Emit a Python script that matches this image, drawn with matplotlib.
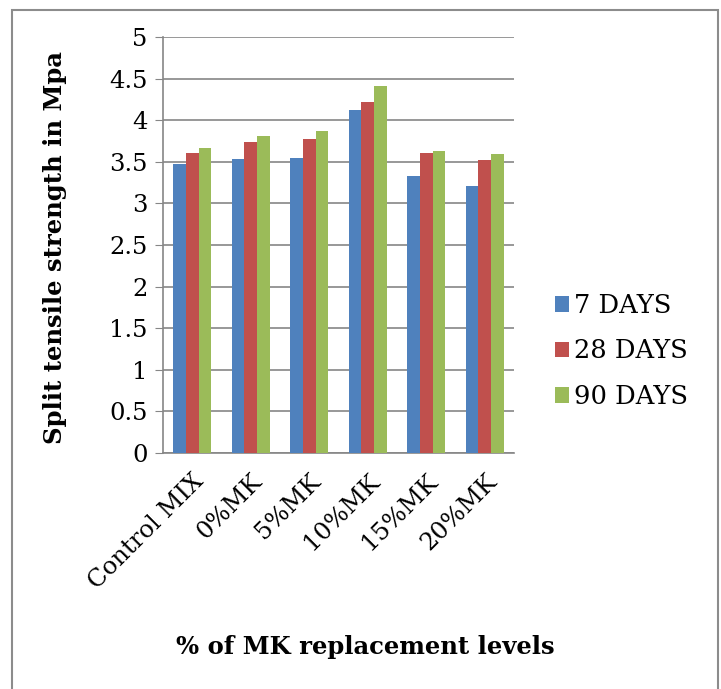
import numpy as np
import matplotlib.pyplot as plt
from matplotlib.patches import Rectangle

categories = ["Control MIX", "0%MK", "5%MK", "10%MK", "15%MK", "20%MK"]
days_7 = [3.47, 3.53, 3.54, 4.12, 3.33, 3.21]
days_28 = [3.61, 3.74, 3.78, 4.22, 3.60, 3.52]
days_90 = [3.66, 3.81, 3.87, 4.41, 3.63, 3.59]
series_names = ["7 DAYS", "28 DAYS", "90 DAYS"]
colors = ["#4F81BD", "#C0504D", "#9BBB59"]

plt.rcParams['font.family'] = ['DejaVu Serif']

fig = plt.figure(figsize=(7.21, 6.89), dpi=100)
W, H = 721, 689
# plot area in pixels: x 163..514, y 37..453
ax = fig.add_axes([163 / W, 1 - 453 / H, (514 - 163) / W, (453 - 37) / H])

# chart border
fig.patches.append(Rectangle((12 / W, -0.01), (718 - 12) / W, 1 - 10 / H + 0.01,
                             transform=fig.transFigure, fill=False,
                             edgecolor='#8c8c8c', linewidth=1.5))

x = np.arange(len(categories))
bw = 0.217
for i, (vals, name, col) in enumerate(zip([days_7, days_28, days_90], series_names, colors)):
    ax.bar(x + (i - 1) * bw, vals, bw, color=col, label=name, zorder=3)

ax.set_xlim(-0.5, len(categories) - 0.5)
ax.set_ylim(0, 5)
ax.set_yticks(np.arange(0, 5.01, 0.5))
ax.set_yticklabels(["0", "0.5", "1", "1.5", "2", "2.5", "3", "3.5", "4", "4.5", "5"])
ax.yaxis.grid(True, color='#868686', linewidth=1.2, zorder=0)
ax.set_axisbelow(True)
for s in ['top', 'right']:
    ax.spines[s].set_visible(False)
ax.spines['left'].set_color('#868686')
ax.spines['bottom'].set_color('#868686')
ax.spines['left'].set_linewidth(1.2)
ax.spines['bottom'].set_linewidth(1.2)
ax.tick_params(axis='y', length=6, color='#868686', labelsize=17.5, pad=5)
ax.tick_params(axis='x', length=0, labelsize=17.5, pad=12)
ax.set_xticks(x)
ax.set_xticklabels(categories, rotation=45, ha='right', va='top', rotation_mode='anchor')

ax.set_ylabel("Split tensile strength in Mpa", fontsize=17.5, fontweight='bold')
ax.yaxis.set_label_coords((67 - 163) / (514 - 163), (453 - 248) / (453 - 37))
fig.text(365 / W, 1 - 647 / H, "% of MK replacement levels", fontsize=17.5,
         fontweight='bold', ha='center', va='center')

ax.legend(loc='center left', bbox_to_anchor=(555 / W, 1 - 351 / H), bbox_transform=fig.transFigure,
          frameon=False, fontsize=18.5, handlelength=0.55, handleheight=0.55, handletextpad=0.2,
          labelspacing=0.8, borderaxespad=0, borderpad=0)

fig.savefig("out.png", dpi=100)
